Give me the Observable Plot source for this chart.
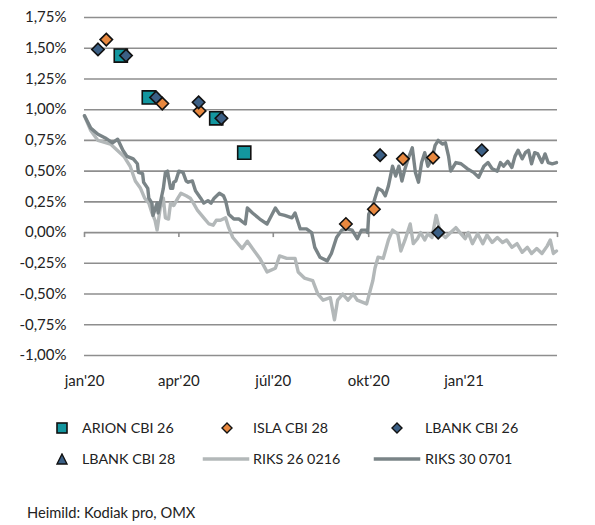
<!DOCTYPE html>
<html><head><meta charset="utf-8">
<script src="https://cdn.jsdelivr.net/npm/d3@7"></script>
<script src="https://cdn.jsdelivr.net/npm/@observablehq/plot@0.6"></script>
<style>
body{margin:0;background:#fff;font-family:Lato, sans-serif;color:#222}
#wrap{position:relative;width:595px;height:525px;overflow:hidden}
#chart{position:absolute;left:0;top:0}
.lg{position:absolute;font-size:14.3px;line-height:1;white-space:nowrap;transform:translateY(-50%)}
.sw{position:absolute;transform:translate(-50%,-50%)}
#src{position:absolute;left:27px;top:512px;font-size:14.7px;line-height:1;transform:translateY(-50%);white-space:nowrap}
</style></head><body>
<div id="wrap"><div id="chart"></div></div>
<script>
// ---- data ----
const riks26Dates = ["2020-01-01","2020-01-07","2020-01-14","2020-01-26","2020-02-08","2020-02-14","2020-02-19","2020-02-24","2020-02-28","2020-03-03","2020-03-06","2020-03-09","2020-03-11","2020-03-14","2020-03-17","2020-03-19","2020-03-22","2020-03-24","2020-03-27","2020-03-31","2020-04-03","2020-04-08","2020-04-12","2020-04-15","2020-04-19","2020-04-22","2020-04-25","2020-04-30","2020-05-04","2020-05-07","2020-05-11","2020-05-16","2020-05-19","2020-05-23","2020-06-01","2020-06-06","2020-06-11","2020-06-18","2020-06-25","2020-07-03","2020-07-07","2020-07-14","2020-07-22","2020-07-25","2020-07-31","2020-08-08","2020-08-13","2020-08-18","2020-08-25","2020-08-29","2020-09-01","2020-09-06","2020-09-11","2020-09-16","2020-09-20","2020-09-29","2020-10-05","2020-10-07","2020-10-10","2020-10-15","2020-10-20","2020-10-24","2020-10-29","2020-11-01","2020-11-05","2020-11-10","2020-11-13","2020-11-17","2020-11-20","2020-11-24","2020-11-27","2020-12-01","2020-12-05","2020-12-09","2020-12-14","2020-12-19","2020-12-24","2020-12-29","2021-01-02","2021-01-05","2021-01-09","2021-01-14","2021-01-19","2021-01-23","2021-01-28","2021-02-02","2021-02-07","2021-02-11","2021-02-16","2021-02-21","2021-02-26","2021-03-03","2021-03-07","2021-03-12","2021-03-17","2021-03-22","2021-03-25","2021-03-28","2021-03-31"];
const riks26Values = [0.95,0.83,0.75,0.72,0.62,0.54,0.42,0.36,0.28,0.24,0.16,0.10,0.02,0.20,0.28,0.12,0.11,0.24,0.22,0.28,0.32,0.30,0.28,0.24,0.18,0.15,0.12,0.07,0.06,0.10,0.10,0.12,0.04,-0.04,-0.13,-0.07,-0.13,-0.21,-0.32,-0.29,-0.19,-0.21,-0.21,-0.32,-0.37,-0.39,-0.50,-0.55,-0.53,-0.71,-0.55,-0.50,-0.55,-0.50,-0.55,-0.58,-0.39,-0.29,-0.20,-0.21,-0.06,0.02,-0.01,-0.15,-0.06,0.07,-0.09,-0.05,0.00,-0.06,-0.01,-0.04,0.14,0.00,-0.04,0.00,0.04,-0.01,-0.05,0.00,-0.09,-0.01,-0.09,-0.02,-0.08,-0.04,-0.08,-0.06,-0.12,-0.09,-0.16,-0.12,-0.17,-0.13,-0.17,-0.11,-0.06,-0.17,-0.15];

const riks30Dates = ["2020-01-01","2020-01-07","2020-01-14","2020-01-21","2020-01-28","2020-02-02","2020-02-07","2020-02-11","2020-02-14","2020-02-17","2020-02-21","2020-02-22","2020-02-26","2020-02-27","2020-03-02","2020-03-03","2020-03-06","2020-03-07","2020-03-11","2020-03-12","2020-03-16","2020-03-17","2020-03-19","2020-03-21","2020-03-22","2020-03-24","2020-03-26","2020-03-27","2020-03-29","2020-04-01","2020-04-05","2020-04-08","2020-04-10","2020-04-14","2020-04-17","2020-04-22","2020-04-25","2020-04-29","2020-05-02","2020-05-05","2020-05-10","2020-05-14","2020-05-16","2020-05-19","2020-05-24","2020-05-29","2020-06-04","2020-06-06","2020-06-11","2020-06-18","2020-06-25","2020-07-03","2020-07-07","2020-07-12","2020-07-19","2020-07-22","2020-07-27","2020-08-02","2020-08-07","2020-08-10","2020-08-15","2020-08-22","2020-08-26","2020-08-31","2020-09-05","2020-09-10","2020-09-15","2020-09-20","2020-09-24","2020-09-29","2020-09-30","2020-10-01","2020-10-05","2020-10-07","2020-10-10","2020-10-14","2020-10-17","2020-10-20","2020-10-24","2020-10-27","2020-10-30","2020-11-02","2020-11-05","2020-11-08","2020-11-12","2020-11-15","2020-11-18","2020-11-21","2020-11-24","2020-11-27","2020-12-01","2020-12-04","2020-12-07","2020-12-11","2020-12-14","2020-12-17","2020-12-19","2020-12-24","2020-12-29","2021-01-04","2021-01-10","2021-01-15","2021-01-20","2021-01-24","2021-01-28","2021-02-02","2021-02-05","2021-02-08","2021-02-12","2021-02-16","2021-02-19","2021-02-22","2021-02-26","2021-03-01","2021-03-04","2021-03-07","2021-03-10","2021-03-13","2021-03-17","2021-03-20","2021-03-23","2021-03-27","2021-03-31"];
const riks30Values = [0.95,0.85,0.80,0.77,0.73,0.76,0.67,0.62,0.61,0.60,0.56,0.49,0.48,0.41,0.36,0.28,0.24,0.14,0.24,0.16,0.32,0.36,0.49,0.50,0.45,0.36,0.36,0.41,0.42,0.50,0.49,0.42,0.41,0.42,0.34,0.28,0.24,0.26,0.24,0.28,0.32,0.30,0.26,0.15,0.11,0.11,0.07,0.20,0.16,0.11,0.07,0.20,0.15,0.14,0.12,0.16,0.03,0.03,0.00,-0.12,-0.20,-0.23,-0.17,-0.04,0.02,0.03,0.02,-0.05,0.02,0.02,0.00,0.15,0.22,0.28,0.36,0.34,0.30,0.38,0.54,0.46,0.54,0.42,0.52,0.60,0.69,0.49,0.41,0.57,0.65,0.54,0.60,0.71,0.75,0.72,0.73,0.62,0.50,0.57,0.56,0.52,0.49,0.45,0.54,0.57,0.52,0.50,0.57,0.54,0.58,0.53,0.62,0.67,0.60,0.65,0.67,0.56,0.65,0.64,0.57,0.64,0.57,0.56,0.57];

const arionDates = ["2020-02-05","2020-03-03","2020-05-07","2020-06-03"];
const arionValues = [1.44,1.10,0.93,0.65];

const islaDates = ["2020-01-22","2020-03-16","2020-04-21","2020-09-09","2020-10-06","2020-11-03","2020-12-02"];
const islaValues = [1.57,1.05,0.99,0.07,0.19,0.60,0.61];

const lbank26Dates = ["2020-01-14","2020-02-10","2020-03-10","2020-04-20","2020-05-12","2020-10-12","2020-12-07","2021-01-18"];
const lbank26Values = [1.49,1.44,1.10,1.06,0.93,0.63,0.00,0.67];

const lbank28Dates = [];
const lbank28Values = [];

const yTicks = [-1,-0.75,-0.5,-0.25,0,0.25,0.5,0.75,1,1.25,1.5,1.75];
const xTickDates = ["2020-01-01","2020-04-01","2020-07-01","2020-10-01","2021-01-01","2021-04-01"];
const xTickLabels = ["jan'20","apr'20","júl'20","okt'20","jan'21",""];

const seriesNames = ["ARION CBI 26","ISLA CBI 28","LBANK CBI 26","LBANK CBI 28","RIKS 26 0216","RIKS 30 0701"];
const colors = {teal:"#13969f", orange:"#e8883f", blue:"#3b5f85", light:"#b3b8b9", dark:"#7a8487", grid:"#8e8e8e"};

// ---- build tables ----
const toRows = (ds, vs) => ds.map((d,i) => ({date:new Date(d), value:vs[i]}));
const riks26 = toRows(riks26Dates, riks26Values);
const riks30 = toRows(riks30Dates, riks30Values);
const arion = toRows(arionDates, arionValues);
const isla = toRows(islaDates, islaValues);
const lbank26 = toRows(lbank26Dates, lbank26Values);
const lbank28 = toRows(lbank28Dates, lbank28Values);
const xTicks = xTickDates.map((d,i) => ({date:new Date(d), label:xTickLabels[i]}));

const fmt = d => d3.format(".2f")(d).replace("−","-").replace(".",",") + "%";

const chart = Plot.plot({
  width: 595,
  height: 392,
  marginLeft: 84,
  marginRight: 38,
  marginTop: 17,
  marginBottom: 37,
  style: {fontFamily: "Lato, sans-serif", background: "#fff"},
  x: {type: "utc", domain: [new Date("2020-01-01"), new Date("2021-04-01")], axis: null},
  y: {domain: [-1, 1.75], axis: null},
  marks: [
    Plot.ruleY(yTicks, {stroke: colors.grid, strokeWidth: 1.6}),
    Plot.ruleX(xTicks, {x: "date", y1: 0, y2: 0, insetBottom: -5, stroke: colors.grid, strokeWidth: 1.6}),
    Plot.axisY({ticks: yTicks, label: null, tickSize: 0, tickPadding: 18, tickFormat: fmt, fontSize: 15, fill: "#222"}),
    Plot.text(xTicks, {x: "date", text: "label", frameAnchor: "bottom", dy: 26, lineAnchor: "middle", fontSize: 15, fill: "#222"}),
    Plot.line(riks26, {x: "date", y: "value", stroke: colors.light, strokeWidth: 3.4, strokeLinejoin: "round"}),
    Plot.line(riks30, {x: "date", y: "value", stroke: colors.dark, strokeWidth: 3.4, strokeLinejoin: "round"}),
    Plot.dot(arion, {x: "date", y: "value", symbol: "square", r: 7.4, fill: colors.teal, stroke: "#111", strokeWidth: 1.6}),
    Plot.dot(isla, {x: "date", y: "value", symbol: "diamond2", r: 5.6, fill: colors.orange, stroke: "#111", strokeWidth: 1.6}),
    Plot.dot(lbank26, {x: "date", y: "value", symbol: "diamond2", r: 5.6, fill: colors.blue, stroke: "#111", strokeWidth: 1.6}),
    Plot.dot(lbank28, {x: "date", y: "value", symbol: "triangle", r: 5.6, fill: colors.blue, stroke: "#111", strokeWidth: 1.6})
  ]
});
document.getElementById("chart").appendChild(chart);

// ---- legend (HTML below the SVG) ----
const wrap = document.getElementById("wrap");
const legendItems = [
  {name: seriesNames[0], type: "square", color: colors.teal, sx: 62, tx: 82, y: 428},
  {name: seriesNames[1], type: "diamond", color: colors.orange, sx: 227, tx: 253, y: 428},
  {name: seriesNames[2], type: "diamond", color: colors.blue, sx: 397, tx: 425, y: 428},
  {name: seriesNames[3], type: "triangle", color: colors.blue, sx: 62, tx: 82, y: 459},
  {name: seriesNames[4], type: "line", color: colors.light, sx: 226, tx: 253, y: 459},
  {name: seriesNames[5], type: "line", color: colors.dark, sx: 397, tx: 425, y: 459}
];
for (const it of legendItems) {
  const sw = document.createElement("div");
  sw.className = "sw";
  sw.style.left = it.sx + "px";
  sw.style.top = it.y + "px";
  let svg;
  if (it.type === "square") svg = `<svg width="12" height="12"><rect x="1" y="1" width="10" height="10" fill="${it.color}" stroke="#111" stroke-width="1.6"/></svg>`;
  else if (it.type === "diamond") svg = `<svg width="12" height="12"><path d="M6,1L11,6L6,11L1,6Z" fill="${it.color}" stroke="#111" stroke-width="1.4"/></svg>`;
  else if (it.type === "triangle") svg = `<svg width="12" height="12"><path d="M6,1L11,11L1,11Z" fill="${it.color}" stroke="#111" stroke-width="1.4"/></svg>`;
  else svg = `<svg width="47" height="6"><line x1="0" y1="3" x2="47" y2="3" stroke="${it.color}" stroke-width="3.5"/></svg>`;
  sw.innerHTML = svg;
  sw.firstChild.style.display = "block";
  wrap.appendChild(sw);
  const t = document.createElement("div");
  t.className = "lg";
  t.style.left = it.tx + "px";
  t.style.top = it.y + "px";
  t.textContent = it.name;
  wrap.appendChild(t);
}
const src = document.createElement("div");
src.id = "src";
src.textContent = "Heimild: Kodiak pro, OMX";
wrap.appendChild(src);
</script>
</body></html>
